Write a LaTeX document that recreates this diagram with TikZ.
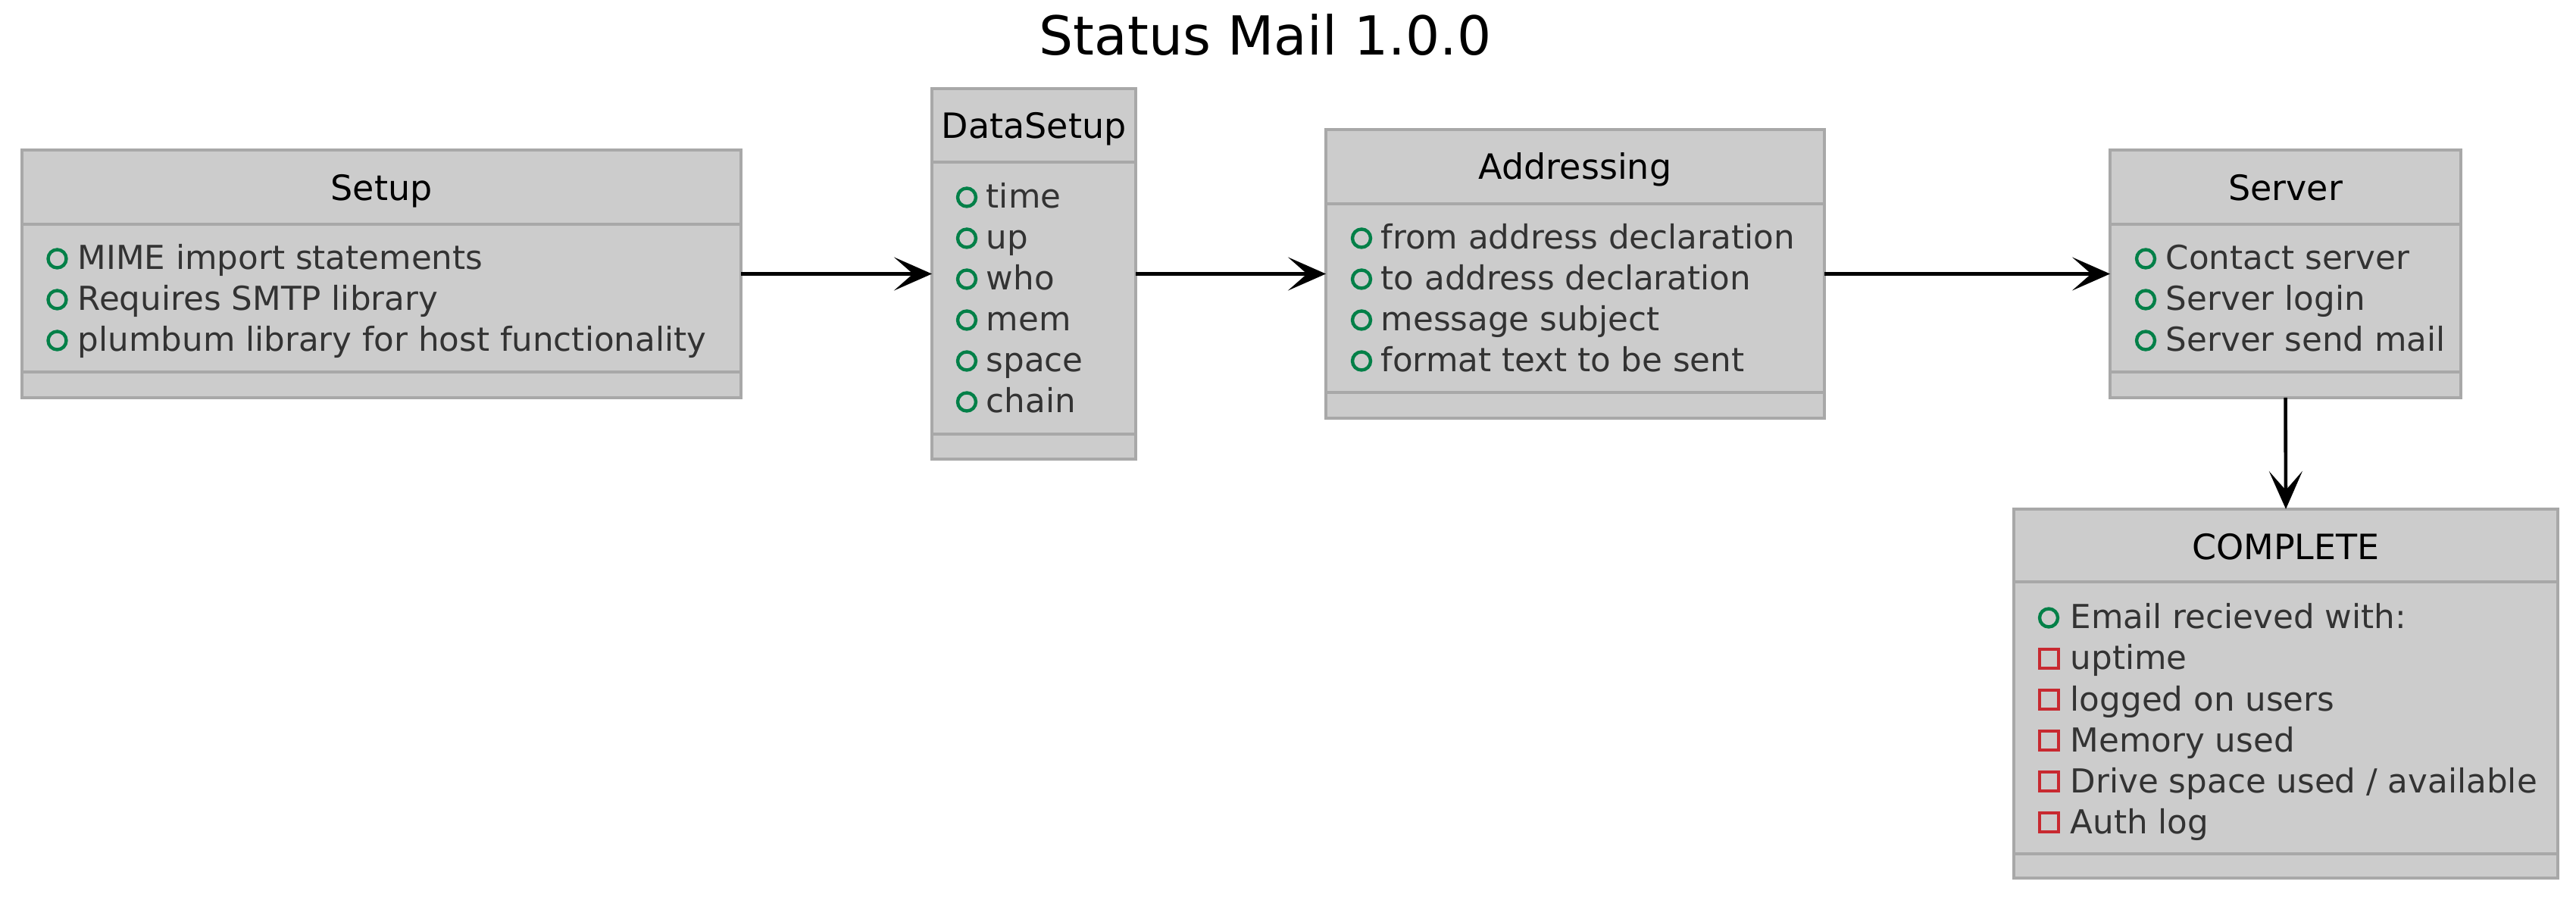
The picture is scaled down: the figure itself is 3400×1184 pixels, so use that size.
\documentclass[tikz,border=0pt]{standalone}
\usepackage{fontspec}
\setmainfont{DejaVu Sans}
\usetikzlibrary{arrows.meta}
\definecolor{boxfill}{HTML}{CCCCCC}
\definecolor{boxline}{HTML}{A8A8A8}
\definecolor{attrtext}{HTML}{333333}
\definecolor{pubgreen}{HTML}{038048}
\definecolor{privred}{HTML}{C82930}
\begin{document}
\begin{tikzpicture}[x=0.25pt,y=-0.25pt,
  classbox/.style={draw=boxline, fill=boxfill, line width=1.15pt, inner sep=0pt, outer sep=0pt, anchor=north west},
  sepline/.style={draw=boxline, line width=1.15pt},
  cname/.style={font=\fontsize{11.5pt}{13pt}\selectfont, text=black, anchor=base, inner sep=0pt},
  attr/.style={font=\fontsize{10.9pt}{13pt}\selectfont, text=attrtext, anchor=base west, inner sep=0pt},
  pubicon/.style={circle, draw=pubgreen, line width=1.1pt, minimum size=6pt, inner sep=0pt},
  privicon/.style={rectangle, draw=privred, line width=1pt, minimum size=6.25pt, inner sep=0pt},
  flow/.style={draw=black, line width=1.15pt, -{Stealth[length=12.5pt, width=11pt, inset=6.25pt]}},
  titletext/.style={font=\fontsize{17.75pt}{20pt}\selectfont, text=black, anchor=base, inner sep=0pt}
]
\useasboundingbox (0,0) rectangle (3400,1184);

% Title
\node[titletext] (title) at (1670,73) {Status Mail 1.0.0};

% ---------- Setup ----------
\node[classbox, minimum width=237.25pt, minimum height=81.75pt] (setup) at (29,198) {};
\draw[sepline] (29,296) -- (978,296);
\draw[sepline] (29,491) -- (978,491);
\node[cname] (setupname) at (503.5,265) {Setup};
\node[pubicon] (s1i) at (75.5,341.5) {};
\node[attr] (s1) at (102,356) {MIME import statements};
\node[pubicon] (s2i) at (75.5,395.5) {};
\node[attr] (s2) at (102,410) {Requires SMTP library};
\node[pubicon] (s3i) at (75.5,449.5) {};
\node[attr] (s3) at (102,464) {plumbum library for host functionality};

% ---------- DataSetup ----------
\node[classbox, minimum width=67.25pt, minimum height=122.25pt] (datasetup) at (1230,117) {};
\draw[sepline] (1230,214) -- (1499,214);
\draw[sepline] (1230,573) -- (1499,573);
\node[cname] (dsname) at (1364.5,183) {DataSetup};
\node[pubicon] (d1i) at (1276,260.5) {};
\node[attr] (d1) at (1301,275) {time};
\node[pubicon] (d2i) at (1276,314.5) {};
\node[attr] (d2) at (1301,329) {up};
\node[pubicon] (d3i) at (1276,368.5) {};
\node[attr] (d3) at (1301,383) {who};
\node[pubicon] (d4i) at (1276,422.5) {};
\node[attr] (d4) at (1301,437) {mem};
\node[pubicon] (d5i) at (1276,476.5) {};
\node[attr] (d5) at (1301,491) {space};
\node[pubicon] (d6i) at (1276,530.5) {};
\node[attr] (d6) at (1301,545) {chain};

% ---------- Addressing ----------
\node[classbox, minimum width=164.5pt, minimum height=95.25pt] (addressing) at (1750,171) {};
\draw[sepline] (1750,269) -- (2408,269);
\draw[sepline] (1750,518) -- (2408,518);
\node[cname] (adname) at (2079,237) {Addressing};
\node[pubicon] (a1i) at (1797,314.5) {};
\node[attr] (a1) at (1822,329) {from address declaration};
\node[pubicon] (a2i) at (1797,368.5) {};
\node[attr] (a2) at (1822,383) {to address declaration};
\node[pubicon] (a3i) at (1797,422.5) {};
\node[attr] (a3) at (1822,437) {message subject};
\node[pubicon] (a4i) at (1797,476.5) {};
\node[attr] (a4) at (1822,491) {format text to be sent};

% ---------- Server ----------
\node[classbox, minimum width=115.75pt, minimum height=81.75pt] (server) at (2785,198) {};
\draw[sepline] (2785,296) -- (3248,296);
\draw[sepline] (2785,491) -- (3248,491);
\node[cname] (svname) at (3016.5,265) {Server};
\node[pubicon] (v1i) at (2832,341.5) {};
\node[attr] (v1) at (2858,356) {Contact server};
\node[pubicon] (v2i) at (2832,395.5) {};
\node[attr] (v2) at (2858,410) {Server login};
\node[pubicon] (v3i) at (2832,449.5) {};
\node[attr] (v3) at (2858,464) {Server send mail};

% ---------- COMPLETE ----------
\node[classbox, minimum width=179.5pt, minimum height=121.75pt] (complete) at (2658,672) {};
\draw[sepline] (2658,768) -- (3376,768);
\draw[sepline] (2658,1127) -- (3376,1127);
\node[cname] (cpname) at (3017,739) {COMPLETE};
\node[pubicon] (c1i) at (2704,815.5) {};
\node[attr] (c1) at (2732,830) {Email recieved with:};
\node[privicon] (c2i) at (2704,869.5) {};
\node[attr] (c2) at (2732,884) {uptime};
\node[privicon] (c3i) at (2704,923.5) {};
\node[attr] (c3) at (2732,938) {logged on users};
\node[privicon] (c4i) at (2704,977.5) {};
\node[attr] (c4) at (2732,992) {Memory used};
\node[privicon] (c5i) at (2704,1031.5) {};
\node[attr] (c5) at (2732,1046) {Drive space used / available};
\node[privicon] (c6i) at (2704,1085.5) {};
\node[attr] (c6) at (2732,1100) {Auth log};

% ---------- Connectors ----------
\draw[flow] (setup.east) -- (datasetup.west);
\draw[flow] (datasetup.east) -- (addressing.west);
\draw[flow] (addressing.east) -- (server.west);
\draw[flow] (server.south) -- (complete.north);
\end{tikzpicture}
\end{document}
